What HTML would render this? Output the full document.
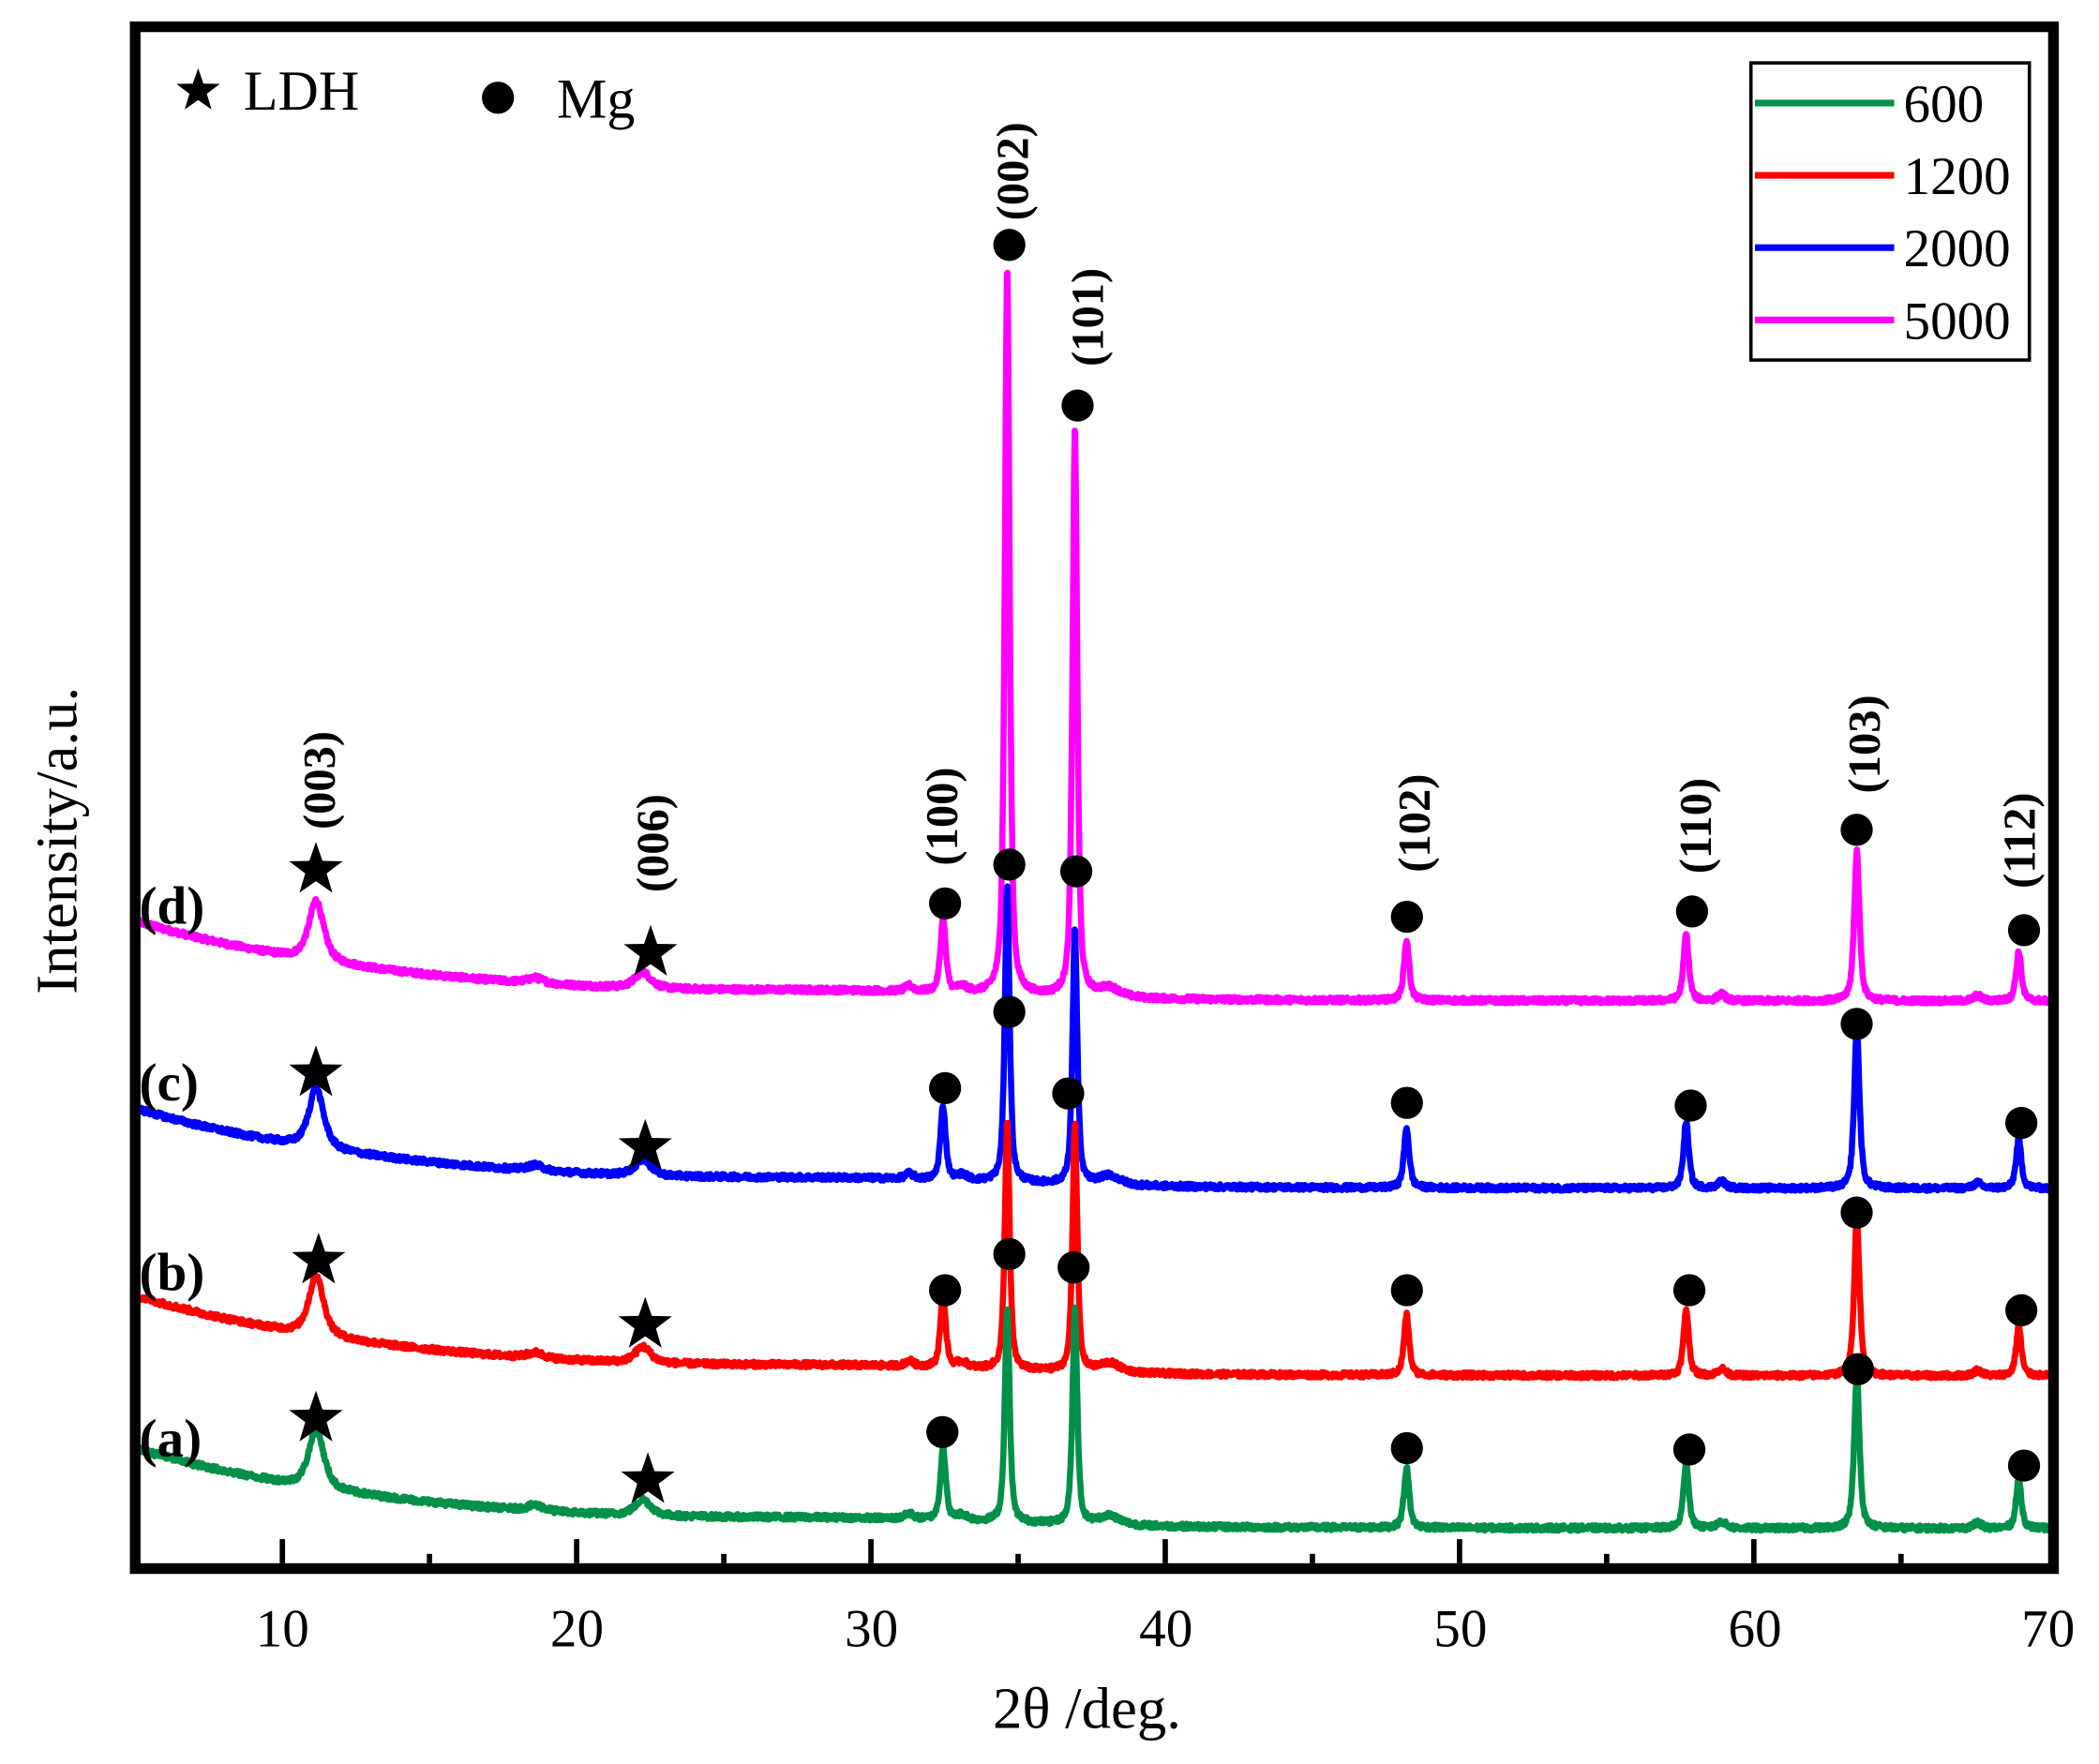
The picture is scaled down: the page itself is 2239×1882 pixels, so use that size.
<!DOCTYPE html>
<html><head><meta charset="utf-8">
<style>
html,body{margin:0;padding:0;background:#fff;}
svg{display:block;}
text{font-family:"Liberation Serif",serif;fill:#000;}
.b{font-weight:bold;}
</style></head>
<body>
<svg id="s" width="2239" height="1882" viewBox="0 0 1568 1318" xmlns="http://www.w3.org/2000/svg">
<rect x="0" y="0" width="1568" height="1318" fill="#fff"/>
<g id="curves" fill="none" stroke-width="4.6" stroke-linejoin="round"></g>
<g id="marks"></g>
<rect x="101" y="20" width="1433" height="1152" fill="none" stroke="#000" stroke-width="8"/>
<g id="ticks" stroke="#000" stroke-width="4"></g>
<g font-size="40" text-anchor="middle">
<text x="211" y="1230">10</text><text x="431" y="1230">20</text><text x="651" y="1230">30</text>
<text x="871" y="1230">40</text><text x="1091" y="1230">50</text><text x="1311" y="1230">60</text>
<text x="1530" y="1230">70</text>
</g>
<text x="812" y="1291" font-size="44" text-anchor="middle">2θ /deg.</text>
<text transform="translate(57,628) rotate(-90)" font-size="44" text-anchor="middle">Intensity/a.u.</text>
<rect x="1308" y="47" width="208" height="222" fill="#fff" stroke="#000" stroke-width="2.5"/>
<g stroke-width="5">
<line x1="1311" y1="77" x2="1415" y2="77" stroke="#00904a"/>
<line x1="1311" y1="131" x2="1415" y2="131" stroke="#ff0000"/>
<line x1="1311" y1="185" x2="1415" y2="185" stroke="#0000ff"/>
<line x1="1311" y1="239" x2="1415" y2="239" stroke="#ff00ff"/>
</g>
<g font-size="40">
<text x="1422" y="91">600</text><text x="1422" y="145">1200</text>
<text x="1422" y="199">2000</text><text x="1422" y="253">5000</text>
</g>
<text x="182" y="82" font-size="42">LDH</text>
<text x="416" y="88" font-size="42">Mg</text>
<g class="b" font-size="40">
<text x="104" y="690">(d)</text><text x="104" y="822">(c)</text>
<text x="104" y="964">(b)</text><text x="104" y="1088">(a)</text>
</g>
<g id="hkl" class="b" font-size="34" text-anchor="middle"></g>
</svg>
<script>
(function(){
var NS="http://www.w3.org/2000/svg";
function el(p,t,a){var e=document.createElementNS(NS,t);for(var k in a)e.setAttribute(k,a[k]);p.appendChild(e);return e;}
function X(t){return 101+(t-5)*21.985;}
var ticks=document.getElementById('ticks');
for(var t=10;t<=65;t+=5){var maj=(t%10==0);el(ticks,'line',{x1:X(t),x2:X(t),y1:1168,y2:maj?1150:1161});}
var seed=12345;function rnd(){seed=(seed*1103515245+12345)%2147483648;return seed/2147483648;}
var common=[[11.15,45,0.28],[22.25,12,0.3],[18.6,4,0.3],[32.45,55,0.1],[31.3,4,0.15],[33.1,4,0.2],[38.1,7,0.4],[48.2,45,0.1],[57.7,50,0.1],[58.9,5,0.15],[63.5,112,0.1],[67.6,4,0.15],[69.0,37,0.1]];
var series=[
 {c:'#ff00ff',off:748,p34:545,p36:425,p63:112},
 {c:'#0000ff',off:888,p34:221,p36:190,p63:120},
 {c:'#ff0000',off:1028,p34:186,p36:186,p63:120},
 {c:'#00904a',off:1142,p34:161,p36:162,p63:115}];
var g=document.getElementById('curves');
series.forEach(function(s){
 var pk=common.slice();pk.push([34.63,s.p34,0.09]);pk.push([36.93,s.p36,0.09]);
 var d='';
 for(var t=5;t<=70.001;t+=0.02){
  var y=60*Math.exp(-(t-5)/9)+4*Math.exp(-(t-30)*(t-30)/40);
  pk.forEach(function(p){var h=(p[0]==63.5)?s.p63:p[1];var w=p[2];var dx=(t-p[0])/w;
   y+=h*(0.7/(1+dx*dx)+0.3*Math.exp(-dx*dx*0.5));});
  y+=(rnd()-0.5)*4;
  d+=(d?'L':'M')+X(t).toFixed(1)+' '+(s.off-y).toFixed(1);
 }
 el(g,'path',{d:d,stroke:s.c});
});
var m=document.getElementById('marks');
var dots=[[706,675],[754,646],[804,651],[1051,685],[1264,681],[1387,620],[1512,695],[754,183],[805,303],
[706,813],[754,756],[798,817],[1051,824],[1263,826],[1387,765],[1510,839],
[706,964],[754,937],[802,947],[1051,964],[1262,964],[1387,906],[1510,979],
[704,1070],[1051,1082],[1262,1083],[1388,1023],[1512,1095],[372,73]];
dots.forEach(function(p){el(m,'circle',{cx:p[0],cy:p[1],r:12,fill:'#000'});});
function star(cx,cy,R){var r=R*0.4,pts=[];for(var i=0;i<10;i++){var a=-Math.PI/2+i*Math.PI/5,rr=i%2?r:R;pts.push((cx+rr*Math.cos(a)).toFixed(1)+','+(cy+rr*Math.sin(a)).toFixed(1));}
 el(m,'polygon',{points:pts.join(' '),fill:'#000'});}
[[236,650],[486,712],[236,802],[482,857],[238,942],[482,990],[236,1060],[484,1106]].forEach(function(p){star(p[0],p[1],21);});
star(148,68,17);
var h=document.getElementById('hkl');
[['(003)',238,583],['(006)',487,630],['(100)',703,610],['(002)',756,128],['(101)',812,237],['(102)',1056,615],['(110)',1266,617],['(103)',1392,556],['(112)',1508,628]].forEach(function(l){
 var e=el(h,'text',{transform:'translate('+(l[1]+12)+','+l[2]+') rotate(-90)'});e.textContent=l[0];});
})();
</script>
</body></html>
